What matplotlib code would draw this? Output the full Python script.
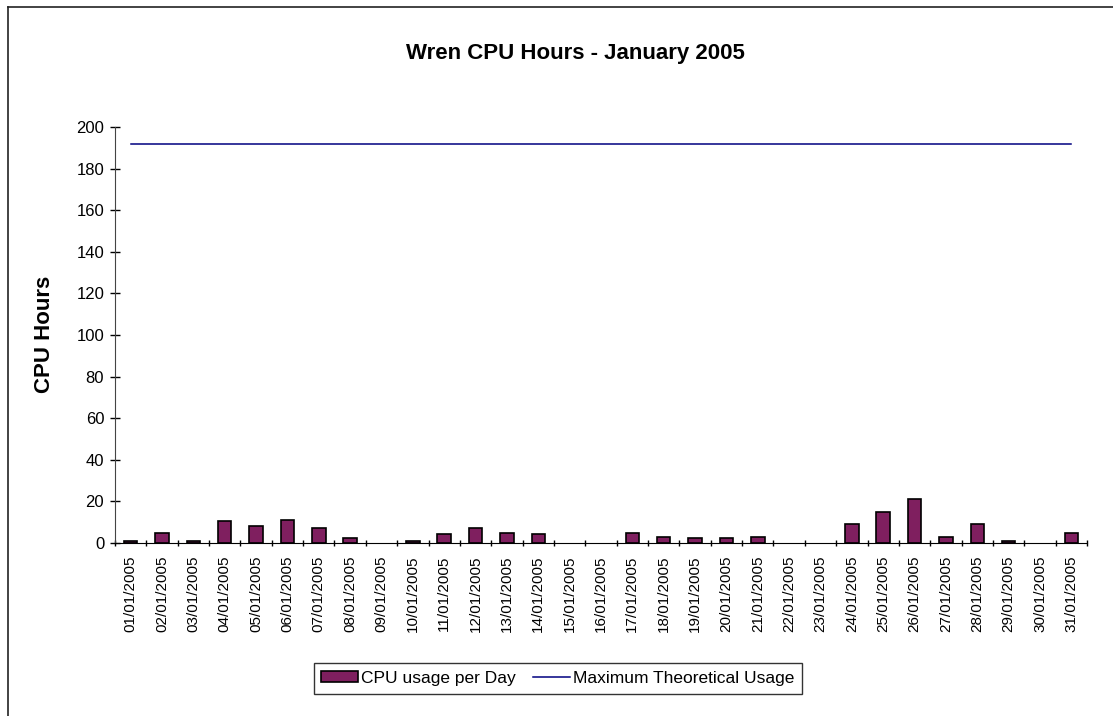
import matplotlib.pyplot as plt
from matplotlib.lines import Line2D
import numpy as np

plt.rcParams['font.family'] = ['Liberation Sans', 'DejaVu Sans']

# daily CPU hours, January 2005
days = ['%02d/01/2005' % d for d in range(1, 32)]
cpu_hours = [0.9, 5.0, 0.9, 10.4, 8.3, 11.0, 7.2, 2.4, 0, 0.9,
             4.3, 7.0, 5.0, 4.3, 0, 0, 5.0, 3.0, 2.4, 2.4,
             3.0, 0, 0, 9.1, 15.0, 21.2, 3.0, 9.1, 0.9, 0, 5.0]
max_usage = [192] * 31

W, H = 1113, 716
fig = plt.figure(figsize=(W / 100, H / 100), dpi=100)

# chart-area border (only top and left edges fall inside the image)
fig.add_artist(Line2D([8 / W, 8 / W], [0, 1 - 7 / H], transform=fig.transFigure,
                      color='#222222', linewidth=1.2))
fig.add_artist(Line2D([8 / W, 1], [1 - 7 / H, 1 - 7 / H], transform=fig.transFigure,
                      color='#222222', linewidth=1.2))

ax = fig.add_axes([115 / W, 1 - 543 / H, 972 / W, 416 / H])
x = np.arange(len(days))
heights = np.array(cpu_hours, dtype=float)
heights[heights == 0] = np.nan  # Excel draws nothing for empty days
bars = ax.bar(x, heights, width=0.43, color='#7F1F5F', edgecolor='black',
              linewidth=1.2, zorder=2)
line, = ax.plot(x, max_usage, color='#000080', linewidth=1.1, zorder=3)

ax.set_xlim(-0.5, len(days) - 0.5)
ax.set_ylim(0, 200)
ax.set_yticks(range(0, 201, 20))
ax.set_xticks(x)
ax.set_xticklabels(days, rotation=90, fontsize=11)
ax.set_xticks(np.arange(-0.5, len(days), 1), minor=True)
ax.tick_params(axis='x', which='major', length=0, pad=9)
ax.tick_params(axis='x', which='minor', direction='inout', length=5, width=1)
ax.tick_params(axis='y', direction='inout', length=7.5, width=1,
               labelsize=12, pad=4)

for s in ['top', 'right']:
    ax.spines[s].set_visible(False)
ax.spines['left'].set_color('#444444')
ax.spines['bottom'].set_color('black')

fig.text(45 / W, 1 - 334 / H, 'CPU Hours', rotation=90, ha='center',
         va='center', fontsize=16, fontweight='bold')
fig.text(575 / W, 1 - 53 / H, 'Wren CPU Hours - January 2005', ha='center',
         va='center', fontsize=16, fontweight='bold')

leg = fig.legend([bars, line], ['CPU usage per Day', 'Maximum Theoretical Usage'],
                 loc='center', bbox_to_anchor=(558 / W, 1 - 678.5 / H),
                 ncol=2, fontsize=12.5, frameon=True, fancybox=False,
                 edgecolor='black', handlelength=2.1, handleheight=0.6,
                 columnspacing=1.0, handletextpad=0.2, borderpad=0.45,
                 borderaxespad=0)
leg.get_frame().set_linewidth(1)

fig.savefig('out.png', dpi=100)
